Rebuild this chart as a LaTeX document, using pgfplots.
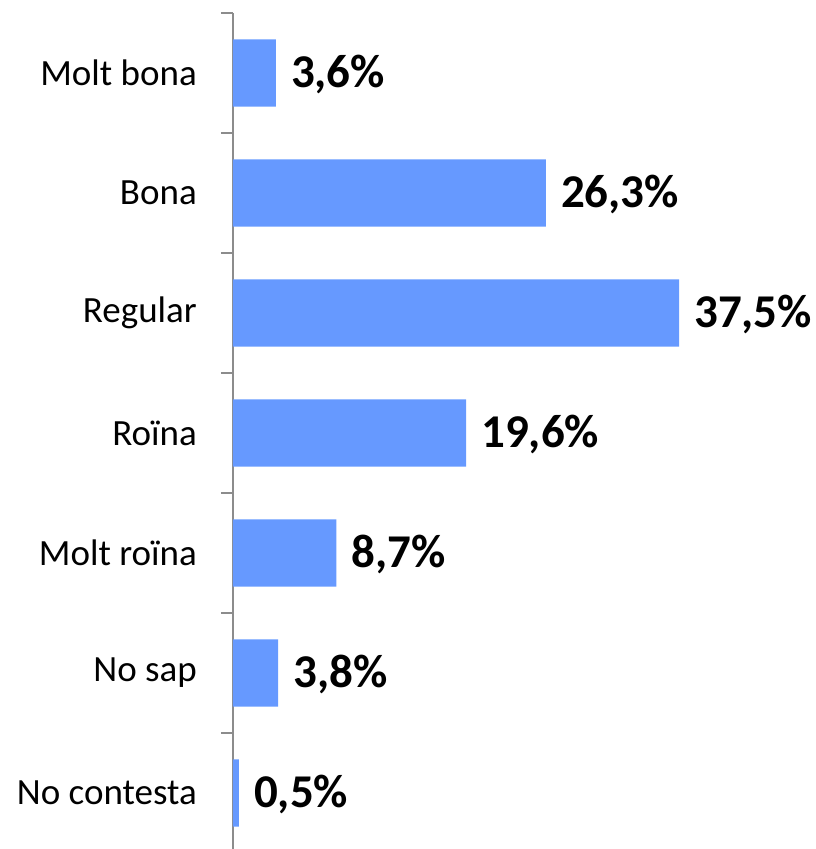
\documentclass[border=0pt]{standalone}
\usepackage{pgfplots}
\pgfplotsset{compat=1.18}
\usepackage{fontspec}
\setmainfont{Carlito}
\definecolor{barblue}{HTML}{6699FF}
\definecolor{axgray}{HTML}{8C8C8C}
\begin{document}
\begin{tikzpicture}
\useasboundingbox (0,0) rectangle (815pt,-849pt);
\clip (0,0) rectangle (815pt,-849pt);
\begin{axis}[
  at={(233pt,-13pt)}, anchor=north west,
  scale only axis, width=570.9pt, height=840pt,
  xbar, bar width=0.56, bar shift=0pt,
  xmin=0, xmax=48, ymin=-0.5, ymax=6.5, y dir=reverse,
  axis x line=none, axis y line=left,
  y axis line style={-, draw=axgray, line width=1.5pt},
  ytick={0,...,6},
  yticklabels={Molt bona,Bona,Regular,Roïna,Molt roïna,No sap,No contesta},
  major tick length=0pt,
  minor ytick={-0.5,0.5,...,6.5},
  minor tick length=12pt, tick align=outside,
  tick style={draw=axgray, line width=1.5pt},
  yticklabel style={font=\fontsize{37}{37}\selectfont, text=black, anchor=east, inner sep=0pt, xshift=-36pt},
  nodes near coords, point meta=explicit symbolic,
  every node near coord/.style={font=\bfseries\fontsize{47}{47}\selectfont, anchor=west, inner sep=0pt, xshift=15pt, yshift=-1pt, text=black},
]
\addplot[fill=barblue, draw=none] coordinates {
  (3.6,0) [3,6\%]
  (26.3,1) [26,3\%]
  (37.5,2) [37,5\%]
  (19.6,3) [19,6\%]
  (8.7,4) [8,7\%]
  (3.8,5) [3,8\%]
  (0.5,6) [0,5\%]
};
\end{axis}
\end{tikzpicture}
\end{document}
